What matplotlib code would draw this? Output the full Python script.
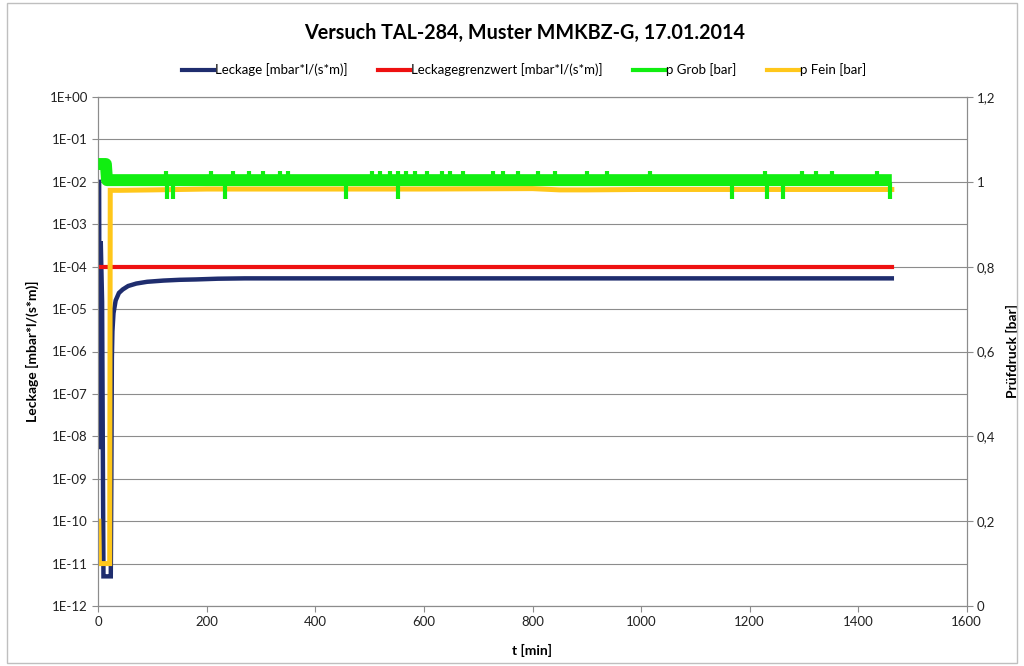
import numpy as np
import matplotlib.pyplot as plt
from matplotlib.ticker import FixedLocator, FuncFormatter, NullLocator
from matplotlib.patches import Rectangle
from matplotlib.lines import Line2D

plt.rcParams['font.family'] = ['Lato', 'DejaVu Sans']

# Leckage [mbar*l/(s*m)] (linke Achse, log)
leck_t = [1.5, 2.5, 3.5, 4.5, 7, 9.5, 12, 16, 20, 23, 24, 25, 26, 28, 32, 38, 45,
          55, 70, 90, 120, 150, 180, 220, 270, 400, 700, 1000, 1300, 1462]
leck_v = [1e-2, 5e-9, 3e-4, 4e-4, 1.5e-5, 5e-12, 5e-12, 5e-12, 5e-12, 5e-12,
          1e-9, 7e-7, 3e-6, 8e-6, 1.6e-5, 2.4e-5, 2.9e-5, 3.5e-5, 4e-5, 4.4e-5,
          4.7e-5, 4.9e-5, 5e-5, 5.2e-5, 5.3e-5, 5.3e-5, 5.3e-5, 5.3e-5, 5.3e-5, 5.3e-5]

# Leckagegrenzwert
grenz_t = [0, 1462]
grenz_v = [1e-4, 1e-4]

# p Grob [bar] (rechte Achse)
grob_t = [0, 14, 16, 1462]
grob_v = [1.042, 1.042, 1.004, 1.004]
grob_up_t = [125, 208, 249, 277, 303, 335, 350, 504, 519, 537, 553, 567, 583,
             605, 633, 648, 672, 728, 746, 774, 811, 841, 900, 937, 1016,
             1228, 1296, 1323, 1351, 1434]
grob_up_v = 1.026
grob_down_t = [126, 138, 233, 456, 553, 1168, 1232, 1262, 1458]
grob_down_v = 0.959

# p Fein [bar]
fein_t = [1, 2, 10, 21, 22, 40, 100, 200, 400, 600, 800, 850, 900,
          1000, 1200, 1462]
fein_v = [0.20, 0.10, 0.10, 0.10, 0.980, 0.980, 0.981, 0.983, 0.983, 0.983,
          0.984, 0.981, 0.981, 0.982, 0.982, 0.982]

navy = '#1F2D6E'
red = '#EE1111'
green = '#11EE11'
yellow = '#FFC71A'
grid = '#8C8C8C'

fig = plt.figure(figsize=(10.24, 6.66), dpi=100)
fig.patches.append(Rectangle((7 / 1024, 3 / 666), 1010 / 1024, 660 / 666,
                             transform=fig.transFigure, fill=False,
                             edgecolor='#BFBFBF', linewidth=1))
ax = fig.add_axes([98.3 / 1024, 1 - 606 / 666, 868.4 / 1024, 509 / 666])
ax2 = ax.twinx()

ax.plot(leck_t, leck_v, color=navy, lw=3.2, solid_joinstyle='miter', zorder=3)
ax.plot(grenz_t, grenz_v, color=red, lw=3.0, zorder=3)

ax2.plot(fein_t, fein_v, color=yellow, lw=3.6, solid_joinstyle='miter', zorder=2)
ax2.plot(grob_t, grob_v, color=green, lw=8.6, solid_capstyle='butt', zorder=3)
ax2.vlines(grob_up_t, 1.0, grob_up_v, color=green, lw=3, zorder=3)
ax2.vlines(grob_down_t, 1.0, grob_down_v, color=green, lw=3, zorder=3)

ax.set_yscale('log')
ax.set_ylim(1e-12, 1)
ax.set_xlim(0, 1600)
ax2.set_ylim(0, 1.2)

ax.yaxis.set_major_locator(FixedLocator([10.0 ** e for e in range(-12, 1)]))
ax.yaxis.set_minor_locator(NullLocator())
ax.yaxis.set_major_formatter(FuncFormatter(
    lambda v, p: '1E{:+03d}'.format(int(round(np.log10(v))))))
ax.set_xticks(np.arange(0, 1601, 200))
ax2.set_yticks(np.arange(0, 1.21, 0.2))
ax2.yaxis.set_major_formatter(FuncFormatter(
    lambda v, p: '{:g}'.format(round(v, 1)).replace('.', ',')))

ax.grid(axis='y', color=grid, lw=0.8)
ax.set_axisbelow(True)
for a in (ax, ax2):
    for s in a.spines.values():
        s.set_color(grid)
        s.set_linewidth(0.8)
    a.tick_params(colors=grid, labelcolor='#222222', labelsize=9.5,
                  length=4, width=0.8)

ax.set_xlabel('t [min]', fontsize=10, fontweight='bold')
ax.xaxis.set_label_coords(0.5, -0.075)
ax.set_ylabel('Leckage [mbar*l/(s*m)]', fontsize=10, fontweight='bold')
ax.yaxis.set_label_coords(-0.068, 0.5)
ax2.set_ylabel('Prüfdruck [bar]', fontsize=10, fontweight='bold')
ax2.yaxis.set_label_coords(1.045, 0.5)

fig.text(0.512, 1 - 33 / 666, 'Versuch TAL-284, Muster MMKBZ-G, 17.01.2014',
         ha='center', va='center', fontsize=14.2, fontweight='bold')

handles = [Line2D([], [], color=navy, lw=3),
           Line2D([], [], color=red, lw=3),
           Line2D([], [], color=green, lw=3),
           Line2D([], [], color=yellow, lw=3)]
labels = ['Leckage [mbar*l/(s*m)]', 'Leckagegrenzwert [mbar*l/(s*m)]',
          'p Grob [bar]', 'p Fein [bar]']
fig.legend(handles, labels, loc='center', ncol=4,
           bbox_to_anchor=(0.512, 1 - 70 / 666), frameon=False, fontsize=9.5,
           handlelength=2.4, handletextpad=0.1, columnspacing=2.3)

fig.savefig('out.png', dpi=100)
